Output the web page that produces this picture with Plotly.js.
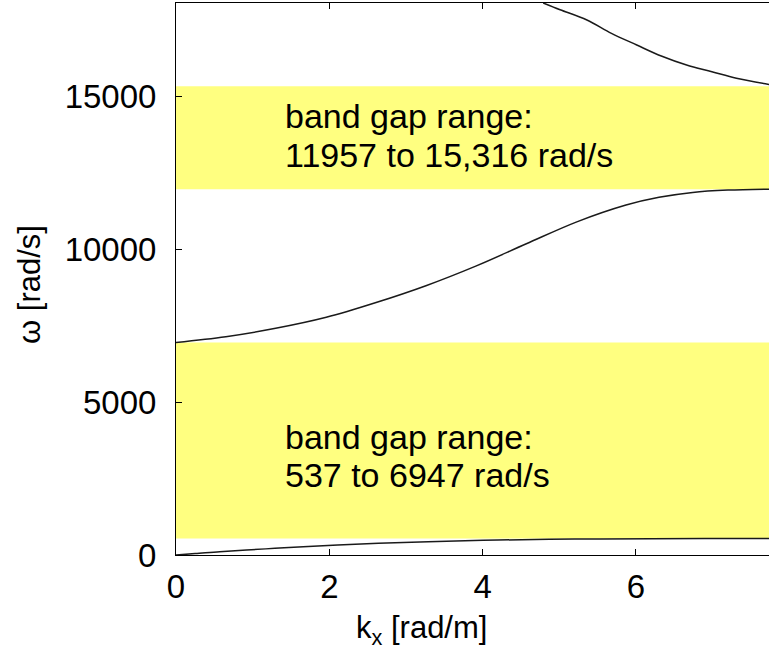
<!DOCTYPE html>
<html>
<head>
<meta charset="utf-8">
<script src="https://cdn.plot.ly/plotly-3.0.1.min.js"></script>
<style>html,body{margin:0;padding:0;background:#fff;}#chart{width:769px;height:663px;}</style>
</head>
<body>
<div id="chart"></div>
<script>
// Dispersion branches (k in rad/m, omega in rad/s)
const k1 = [0, 0.25, 0.57, 0.92, 1.29, 1.66, 2.11, 2.64, 3.29, 4.2, 5.2, 6.2, 7.0, 7.735];
const w1 = [0, 45, 109, 163, 218, 272, 327, 381, 436, 490, 520, 532, 536, 537];

const k2 = [0, 0.65, 1.30, 1.96, 2.61, 3.26, 3.91, 4.57, 5.22, 5.87, 6.30, 6.74, 7.2, 7.735];
const w2 = [6947, 7135, 7407, 7767, 8250, 8800, 9440, 10170, 10880, 11438, 11690, 11850, 11925, 11957];

const k3 = [4.79, 5.01, 5.36, 5.68, 6.01, 6.33, 6.66, 6.99, 7.31, 7.735];
const w3 = [18040, 17820, 17484, 17048, 16667, 16307, 16013, 15794, 15578, 15380];

// Band gaps
const gapLow  = [537, 11957];
const gapHigh = [6947, 15316];
const gapLine1 = ["band gap range:", "band gap range:"];
const gapLine2 = ["537 to 6947 rad/s", "11957 to 15,316 rad/s"];

const xTicks = [0, 2, 4, 6];
const yTicks = [0, 5000, 10000, 15000];
const yTickText = ["0", "5000", "10000", "15000"];

const FONT = "Liberation Sans, Arial, Helvetica, sans-serif";
const lineStyle = {color: "#1a1a1a", width: 1.5, shape: "spline", smoothing: 1};

const traces = [
  {x: k1, y: w1, mode: "lines", line: lineStyle, showlegend: false, hoverinfo: "skip"},
  {x: k2, y: w2, mode: "lines", line: lineStyle, showlegend: false, hoverinfo: "skip"},
  {x: k3, y: w3, mode: "lines", line: lineStyle, showlegend: false, hoverinfo: "skip"}
];

const shapes = gapLow.map((lo, i) => ({
  type: "rect", xref: "paper", yref: "y", x0: 0, x1: 1, y0: lo, y1: gapHigh[i],
  fillcolor: "#FFFF80", line: {width: 0}, layer: "below"
}));

const W = 769, H = 663, mL = 176, mR = 0, mT = 3, mB = 108;
const px2paperX = (px) => (px - mL) / (W - mL - mR);
const px2paperY = (py) => (H - mB - py) / (H - mT - mB);

// text positions (data coords)
const textX = 1.40;
const line1Y = [3866, 14346];
const line2Y = [2614, 13072];
const annotations = [];
gapLow.forEach((lo, i) => {
  annotations.push({x: textX, y: line1Y[i], xref: "x", yref: "y", text: gapLine1[i],
    showarrow: false, xanchor: "left", yanchor: "middle", font: {family: FONT, size: 34, color: "#000"}});
  annotations.push({x: textX, y: line2Y[i], xref: "x", yref: "y", text: gapLine2[i],
    showarrow: false, xanchor: "left", yanchor: "middle", font: {family: FONT, size: 34, color: "#000"}});
});
// axis titles
annotations.push({x: px2paperX(421), y: px2paperY(630), xref: "paper", yref: "paper",
  text: "k<sub>x</sub> [rad/m]", showarrow: false, xanchor: "center", yanchor: "middle",
  font: {family: FONT, size: 31, color: "#000"}});
annotations.push({x: px2paperX(29), y: px2paperY(285), xref: "paper", yref: "paper",
  text: "ω [rad/s]", textangle: -90, showarrow: false, xanchor: "center", yanchor: "middle",
  font: {family: FONT, size: 31, color: "#000"}});

const layout = {
  width: W, height: H,
  margin: {l: mL, r: mR, t: mT, b: mB, pad: 0},
  paper_bgcolor: "#fff", plot_bgcolor: "#fff",
  font: {family: FONT, color: "#000"},
  xaxis: {
    range: [0, 7.735], tickvals: xTicks, ticks: "inside", ticklen: 6, tickcolor: "#000",
    showline: true, linecolor: "#000", linewidth: 1, mirror: "ticks",
    showgrid: false, zeroline: false, tickfont: {family: FONT, size: 33, color: "#000"},
    ticklabelstandoff: 2
  },
  yaxis: {
    range: [0, 18040], tickvals: yTicks, ticktext: yTickText, ticks: "inside", ticklen: 6, tickcolor: "#000",
    showline: true, linecolor: "#000", linewidth: 1, mirror: false,
    showgrid: false, zeroline: false, tickfont: {family: FONT, size: 33, color: "#000"},
    ticklabelstandoff: 12
  },
  shapes: shapes,
  annotations: annotations
};

Plotly.newPlot("chart", traces, layout, {displayModeBar: false, staticPlot: true});
</script>
</body>
</html>
